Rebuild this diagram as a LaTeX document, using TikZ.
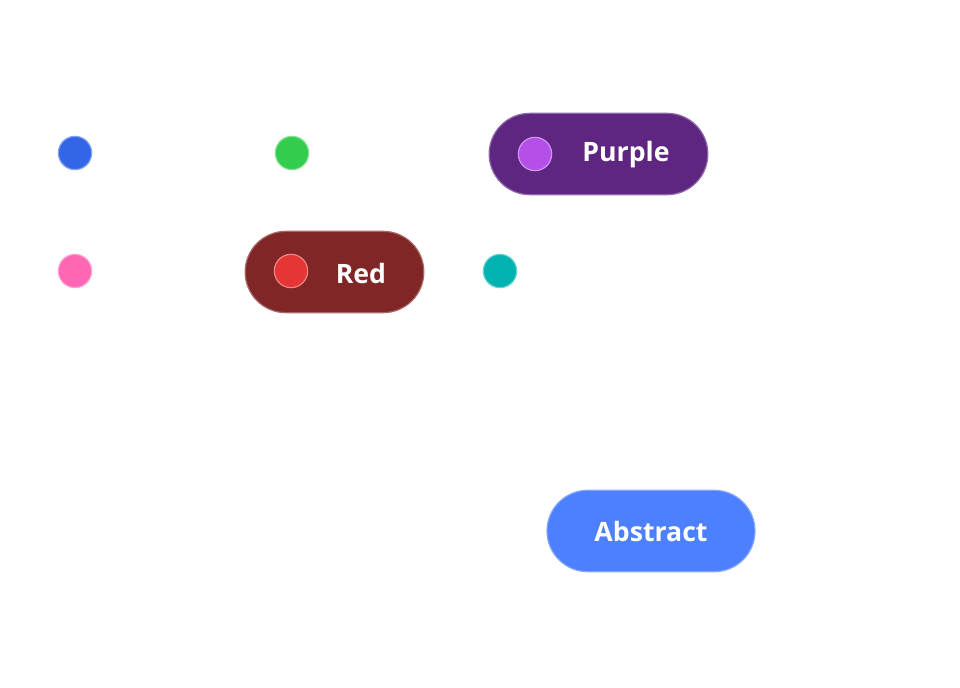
\documentclass[tikz,border=0pt]{standalone}
\usepackage{fontspec}
\setmainfont{Open Sans}
\usetikzlibrary{positioning}
\definecolor{dotblue}{HTML}{3366E6}
\definecolor{dotgreen}{HTML}{33CC4D}
\definecolor{dotpink}{HTML}{FF66B3}
\definecolor{dotteal}{HTML}{00B3B0}
\definecolor{dotpurple}{HTML}{B44FE8}
\definecolor{dotred}{HTML}{E63535}
\definecolor{pillpurple}{HTML}{5E2680}
\definecolor{pillred}{HTML}{802626}
\definecolor{pillblue}{HTML}{4C80FF}
\tikzset{
	dot/.style = {circle, minimum size = 25pt, inner sep = 0pt, fill = #1, draw = #1!60!white, line width = .9pt},
	pill/.style = {rectangle, rounded corners = 30.5pt, minimum height = 61pt, inner sep = 0pt,
		fill = #1, draw = #1!70!white, line width = .9pt, text = white, font = \fontsize{20}{24}\selectfont\bfseries}
}
\begin{document}
\begin{tikzpicture}[x = .75pt, y = -.75pt]
	\useasboundingbox (0,0) rectangle (960,688);
	\node [dot = dotblue] (blue) at (75,153) {};
	\node [dot = dotgreen] (green) at (292,153) {};
	\node [dot = dotpink] (pink) at (75,271) {};
	\node [dot = dotteal] (teal) at (500,271) {};
	\node [pill = pillpurple, minimum width = 164pt] (purple) at (598.5,154) {};
	\node [dot = dotpurple] (purpledot) at (535,154) {};
	\node (purpletext) at (626,155) [text = white, font = \fontsize{20}{24}\selectfont\bfseries] {Purple};
	\node [pill = pillred, minimum width = 134pt] (red) at (334.5,272) {};
	\node [dot = dotred] (reddot) at (291,271) {};
	\node (redtext) at (361,273) [text = white, font = \fontsize{20}{24}\selectfont\bfseries] {Red};
	\node [pill = pillblue, minimum width = 156pt] (abstract) at (651,531) {Abstract};
\end{tikzpicture}
\end{document}
